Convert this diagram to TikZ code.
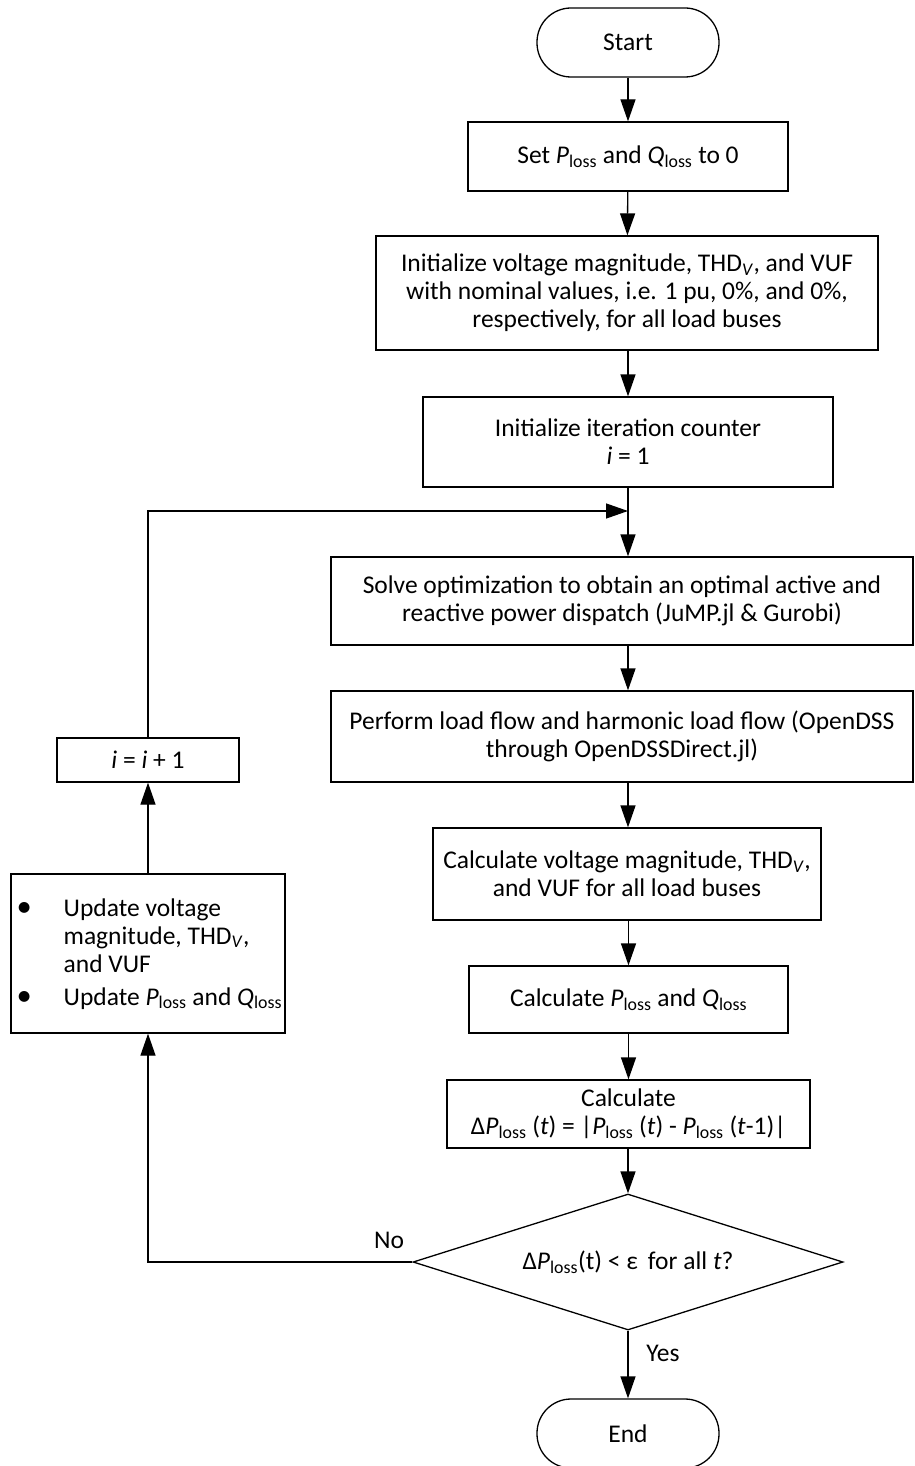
\documentclass[tikz,border=0pt]{standalone}
\usepackage{fontspec}
\setmainfont{Carlito}
\usetikzlibrary{arrows.meta,shapes.geometric}
\newcommand\PL{\textit{P}\textsubscript{loss}}
\newcommand\QL{\textit{Q}\textsubscript{loss}}
\newcommand\THDV{THD\textsubscript{\textit{V}}}
\newcommand\fsz{\fontsize{25.5}{28}\selectfont}
\begin{document}
\begin{tikzpicture}[x=1pt,y=-1pt, line width=1.3pt,
  box/.style={draw, rectangle, align=center, inner sep=0pt, font=\fsz},
  term/.style={box, rounded corners=34pt},
  arr/.style={-{Triangle[length=22pt,width=15pt]}},
  lbl/.style={font=\fsz, inner sep=0pt}]
\useasboundingbox (0,0) rectangle (914,1466);

\node[term, minimum width=182pt, minimum height=69pt] (start) at (628,42.5) {Start};
\node[box, minimum width=320pt, minimum height=69pt] (set) at (628,156.5) {Set \PL{} and \QL{} to 0};
\node[box, minimum width=502pt, minimum height=114pt] (init) at (627,293) {Initialize voltage magnitude, \THDV, and VUF\\with nominal values, i.e. 1 pu, 0\%, and 0\%,\\respectively, for all load buses};
\node[box, minimum width=410pt, minimum height=90pt] (iter) at (628,442) {Initialize iteration counter\\\textit{i} = 1};
\coordinate (merge) at (628,511);
\node[box, minimum width=582pt, minimum height=88pt] (solve) at (622,601) {Solve optimization to obtain an optimal active and\\reactive power dispatch (JuMP.jl \& Gurobi)};
\node[box, minimum width=582pt, minimum height=91pt] (perf) at (622,736.5) {Perform load flow and harmonic load flow (OpenDSS\\through OpenDSSDirect.jl)};
\node[box, minimum width=388pt, minimum height=92pt] (calcv) at (627,874) {Calculate voltage magnitude, \THDV,\\and VUF for all load buses};
\node[box, minimum width=319pt, minimum height=67pt] (calcp) at (628.5,999.5) {Calculate \PL{} and \QL};
\node[box, minimum width=363pt, minimum height=68pt] (calcd) at (628.5,1114) {Calculate\\Δ\PL{} (\textit{t}) = |\PL{} (\textit{t}) - \PL{} (\textit{t}-1)|};
\node[draw, diamond, aspect=3.16, inner sep=0pt, minimum width=430pt, minimum height=136pt, font=\fsz] (dec) at (628,1262) {Δ\PL(t) < ε\, for all \textit{t}?};
\node[term, minimum width=182pt, minimum height=69pt] (end) at (628,1433.5) {End};

\node[box, minimum width=274pt, minimum height=159pt] (upd) at (148,953.5) {};
\node[lbl, anchor=west] (updtxt) at (16,955) {\begin{tabular}{@{}l@{}l@{}}\makebox[47pt][l]{\scalebox{1.2}{\textbullet}} & Update voltage\\ & magnitude, \THDV,\\ & and VUF\\[5pt] \makebox[47pt][l]{\scalebox{1.2}{\textbullet}} & Update \PL{} and \QL\end{tabular}};
\node[box, minimum width=182pt, minimum height=44pt] (inc) at (148,760) {\textit{i} = \textit{i} + 1};

\node[lbl] (no) at (389,1240) {No};
\node[lbl] (yes) at (663,1353) {Yes};

\draw[arr] (start) -- (set);
\draw[arr] (set) -- (init);
\draw[arr] (init.south -| set.south) -- (iter);
\draw[arr] (iter) -- (iter.south |- solve.north);
\draw[arr] (iter.south |- solve.south) -- (iter.south |- perf.north);
\draw[arr] (iter.south |- perf.south) -- (iter.south |- calcv.north);
\draw[arr] (calcv.south -| calcp.north) -- (calcp);
\draw[arr] (calcp) -- (calcd);
\draw[arr] (calcd.south -| dec.north) -- (dec);
\draw[arr] (dec) -- (end);
\draw[arr] (dec.west) -| (upd.south);
\draw[arr] (upd) -- (inc);
\draw[arr] (inc.north) |- (merge);
\end{tikzpicture}
\end{document}
